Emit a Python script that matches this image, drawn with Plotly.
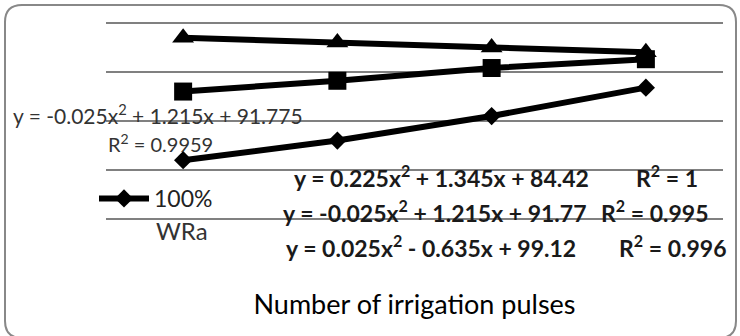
import plotly.graph_objects as go

# Irrigation pulse number (category positions 1..4)
pulses = [1, 2, 3, 4]

# Measured values for each treatment
wra_100 = [86.0, 88.0, 90.5, 93.4]     # diamond series (legend: 100% WRa)
series_sq = [93.0, 94.1, 95.4, 96.3]   # square series
series_tri = [98.5, 98.0, 97.5, 97.0]  # triangle series

y_ticks = [75, 80, 85, 90, 95, 100]
y_ticks_heavy = [85, 90, 95]

# Fitted trendline labels
eq_sq_top = "y = -0.025x<sup>2</sup> + 1.215x + 91.775"
r2_sq_top = "R<sup>2</sup> = 0.9959"
eq_labels = [
    ("y = 0.225x<sup>2</sup> + 1.345x + 84.42", "R<sup>2</sup> = 1"),
    ("y = -0.025x<sup>2</sup> + 1.215x + 91.77", "R<sup>2</sup> = 0.995"),
    ("y = 0.025x<sup>2</sup> - 0.635x + 99.12", "R<sup>2</sup> = 0.996"),
]

W, H = 740, 336
L, R, T, B = 106, 17, 20, 68
PW, PH = W - L - R, H - T - B
Y_RANGE = [75, 100.3]


def px(x):
    return (x - L) / PW


def py(y):
    return (H - B - y) / PH


FONT = "Lato, 'Open Sans', sans-serif"

fig = go.Figure()

fig.add_trace(go.Scatter(
    x=pulses, y=series_tri, mode="lines+markers", showlegend=False,
    line=dict(color="black", width=6),
    marker=dict(symbol="triangle-up", size=19, color="black"),
))
fig.add_trace(go.Scatter(
    x=pulses, y=series_sq, mode="lines+markers", showlegend=False,
    line=dict(color="black", width=6),
    marker=dict(symbol="square", size=18, color="black"),
))
fig.add_trace(go.Scatter(
    x=pulses, y=wra_100, mode="lines+markers", name="100%",
    line=dict(color="black", width=6),
    marker=dict(symbol="diamond", size=14, color="black"),
))

annotations = [
    dict(text=eq_sq_top, x=px(11), y=py(114), xanchor="left", yanchor="middle",
         font=dict(size=21, color="#333333")),
    dict(text=r2_sq_top, x=px(106), y=py(143), xanchor="left", yanchor="middle",
         font=dict(size=20, color="#333333")),
    dict(text="WRa", x=px(154), y=py(230), xanchor="left", yanchor="middle",
         font=dict(size=24, color="#333333")),
]
eq_rows = [(292, 634, 176), (281, 599, 211), (284, 617, 246)]
for (eq, r2), (ex, rx, ey) in zip(eq_labels, eq_rows):
    annotations.append(dict(text="<b>" + eq + "</b>", x=px(ex), y=py(ey),
                            xanchor="left", yanchor="middle",
                            font=dict(size=23, color="#1a1a1a")))
    annotations.append(dict(text="<b>" + r2 + "</b>", x=px(rx), y=py(ey),
                            xanchor="left", yanchor="middle",
                            font=dict(size=23, color="#1a1a1a")))

for a in annotations:
    a.update(xref="paper", yref="paper", showarrow=False)

# Rounded chart border
x0, x1, y0, y1, r = px(5), px(736), py(5), py(338), 17 / PW
ry = 17 / PH
border = (f"M {x0 + r},{y0} L {x1 - r},{y0} Q {x1},{y0} {x1},{y0 - ry} "
          f"L {x1},{y1 + ry} Q {x1},{y1} {x1 - r},{y1} "
          f"L {x0 + r},{y1} Q {x0},{y1} {x0},{y1 + ry} "
          f"L {x0},{y0 - ry} Q {x0},{y0} {x0 + r},{y0} Z")

fig.update_layout(
    width=W, height=H,
    margin=dict(l=L, r=R, t=T, b=B, pad=0),
    paper_bgcolor="white", plot_bgcolor="white",
    font=dict(family=FONT, color="black"),
    annotations=annotations,
    shapes=[dict(type="path", path=border, xref="paper", yref="paper",
                 line=dict(color="#888888", width=2), layer="above")],
    legend=dict(x=px(94), y=py(177), xanchor="left", yanchor="top",
                bgcolor="rgba(0,0,0,0)", valign="middle",
                font=dict(size=23, family=FONT, color="#222222"),
                itemwidth=50, tracegroupgap=0),
    xaxis=dict(range=[0.5, 4.5], showticklabels=False, showgrid=False,
               zeroline=False, showline=False, ticks="",
               title=dict(text="Number of irrigation pulses",
                          font=dict(size=27, family=FONT, color="black"),
                          standoff=27)),
    yaxis=dict(range=Y_RANGE, tickvals=y_ticks, showticklabels=False,
               showgrid=True, gridcolor="#808080", gridwidth=2,
               zeroline=False, showline=False, ticks=""),
    # heavier gridlines through the middle of the value range
    yaxis2=dict(range=Y_RANGE, tickvals=y_ticks_heavy, overlaying="y",
                showticklabels=False, showgrid=True, gridcolor="#7a7a7a",
                gridwidth=3.5, zeroline=False, showline=False, ticks=""),
)

fig.write_html("out.html")
